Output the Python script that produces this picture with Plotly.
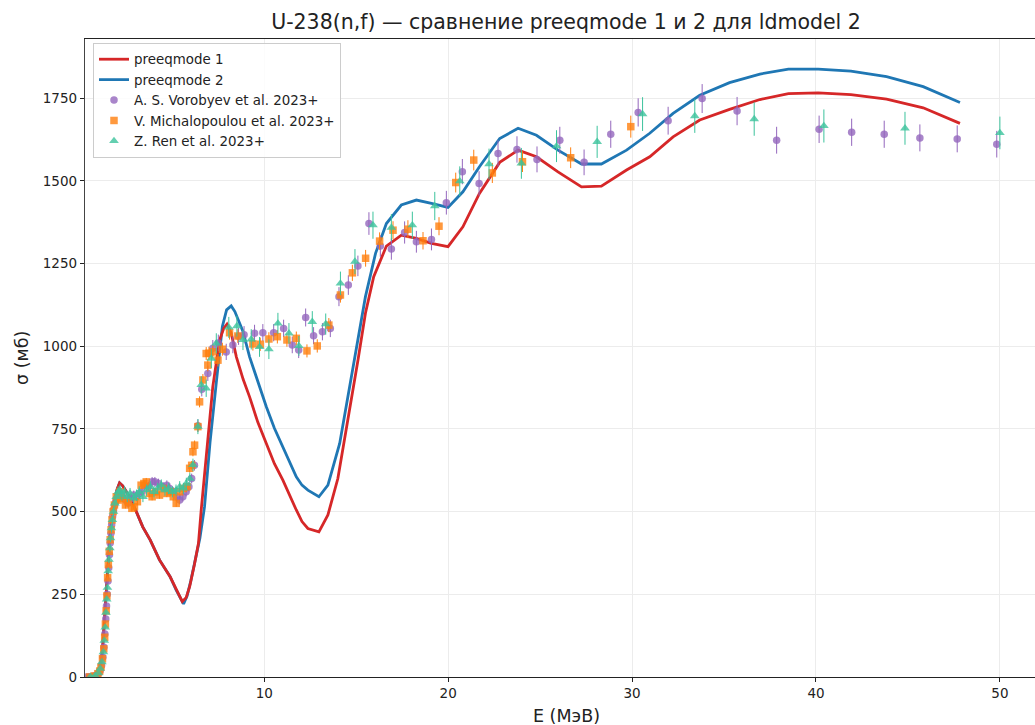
import plotly.graph_objects as go

# ---------------- model curves ----------------
e_pm1 = [0.3, 0.8, 1.0, 1.1, 1.2, 1.3, 1.4, 1.5, 1.6, 1.7,
         1.8, 1.9, 2.0, 2.13, 2.3, 2.67, 3.04, 3.39, 3.8, 4.3,
         4.88, 5.21, 5.54, 5.75, 5.94, 6.2, 6.42, 6.57, 6.9, 7.2,
         7.57, 7.8, 7.97, 8.2, 8.48, 8.85, 9.2, 9.65, 10.11, 10.55,
         11.01, 11.4, 11.74, 12.05, 12.37, 12.97, 13.46, 14.0, 14.5, 15.1,
         15.5, 15.95, 16.64, 17.45, 18.27, 19.09, 19.99, 20.8, 21.7, 22.8,
         23.8, 24.8, 25.97, 27.25, 28.33, 29.7, 30.96, 32.23, 33.68, 35.3,
         36.95, 38.5, 40.12, 41.9, 43.84, 45.83, 47.83]
s_pm1 = [0, 3, 12, 35, 80, 160, 260, 350, 420, 475,
         515, 545, 568, 587, 578, 545, 500, 454, 414, 354,
         303, 263, 228, 240, 273, 340, 404, 505, 700, 878,
         1019, 1055, 1067, 1040, 968, 900, 847, 770, 706, 645,
         595, 545, 505, 470, 449, 439, 490, 600, 760, 960,
         1100, 1210, 1303, 1336, 1326, 1311, 1301, 1361, 1462, 1556,
         1593, 1573, 1527, 1482, 1484, 1533, 1573, 1633, 1684, 1716,
         1746, 1764, 1766, 1761, 1747, 1721, 1674]

e_pm2 = [0.3, 0.8, 1.0, 1.1, 1.2, 1.3, 1.4, 1.5, 1.6, 1.7,
         1.8, 1.9, 2.0, 2.13, 2.3, 2.67, 3.04, 3.39, 3.8, 4.3,
         4.88, 5.21, 5.61, 5.8, 6.0, 6.25, 6.5, 6.75, 7.05, 7.39,
         7.72, 7.95, 8.2, 8.4, 8.84, 9.2, 9.65, 10.11, 10.55, 11.01,
         11.4, 11.74, 12.05, 12.37, 12.97, 13.46, 14.1, 14.5, 15.05, 15.5,
         16.05, 16.64, 17.45, 18.27, 19.09, 19.99, 20.8, 21.7, 22.8, 23.8,
         24.8, 25.97, 27.25, 28.33, 29.7, 30.96, 32.23, 33.68, 35.3, 36.95,
         38.5, 40.12, 41.9, 43.84, 45.83, 47.83]
s_pm2 = [0, 3, 12, 35, 80, 160, 260, 350, 420, 475,
         515, 545, 568, 587, 578, 545, 500, 454, 414, 354,
         303, 263, 221, 245, 290, 355, 420, 515, 710, 890,
         1060, 1110, 1122, 1105, 1045, 968, 890, 817, 752, 696,
         645, 605, 580, 565, 545, 580, 706, 830, 998, 1150,
         1281, 1371, 1427, 1442, 1432, 1420, 1467, 1543, 1628, 1659,
         1638, 1593, 1551, 1551, 1593, 1644, 1704, 1759, 1797, 1823,
         1838, 1838, 1832, 1815, 1785, 1737]

# ---------------- experimental data ----------------
e_vor = [0.35, 0.5, 0.65, 0.8, 0.9, 1.0, 1.08, 1.15, 1.22, 1.28,
         1.33, 1.38, 1.42, 1.46, 1.5, 1.54, 1.58, 1.62, 1.66, 1.7,
         1.75, 1.8, 1.86, 1.92, 2.0, 2.1, 2.2, 2.3, 2.45, 2.6,
         2.75, 2.9, 3.05, 3.2, 3.35, 3.5, 3.7, 3.9, 4.05, 4.25,
         4.5, 4.7, 4.85, 5.05, 5.25, 5.4, 5.57, 5.75, 5.9, 6.05,
         6.2, 6.39, 6.6, 6.93, 7.2, 7.5, 7.93, 8.29, 8.6, 8.9,
         9.47, 9.92, 10.51, 11.05, 11.52, 11.87, 12.25, 12.68, 13.16, 13.59,
         14.06, 14.57, 15.09, 15.69, 16.31, 16.91, 17.63, 18.27, 19.09, 19.9,
         20.77, 21.68, 22.71, 23.74, 24.83, 26.07, 27.39, 28.84, 30.33, 31.96,
         33.81, 35.71, 37.86, 40.17, 41.94, 43.71, 45.65, 47.68, 49.83]
s_vor = [0, 1, 2, 4, 7, 12, 20, 35, 60, 90,
         130, 175, 215, 250, 290, 330, 370, 405, 435, 460,
         485, 505, 520, 530, 540, 548, 552, 545, 535, 525,
         540, 550, 545, 555, 560, 580, 575, 590, 590, 585,
         575, 580, 570, 560, 545, 535, 545, 560, 575, 600,
         640, 760, 870, 918, 994, 1010, 983, 1004, 1030, 1035,
         1039, 1041, 1041, 1054, 1004, 989, 1087, 1032, 1044, 1054,
         1150, 1185, 1243, 1371, 1303, 1294, 1344, 1316, 1323, 1434,
         1528, 1492, 1583, 1595, 1565, 1623, 1556, 1641, 1707, 1682,
         1749, 1711, 1623, 1656, 1647, 1641, 1630, 1627, 1611]

e_mic = [0.5, 0.75, 0.95, 1.05, 1.12, 1.2, 1.27, 1.32, 1.36, 1.4,
         1.44, 1.48, 1.52, 1.57, 1.62, 1.67, 1.72, 1.78, 1.85, 1.95,
         2.05, 2.15, 2.3, 2.45, 2.6, 2.8, 2.94, 3.1, 3.3, 3.45,
         3.58, 3.75, 3.9, 4.1, 4.3, 4.5, 4.7, 4.9, 5.05, 5.21,
         5.4, 5.6, 5.8, 5.94, 6.05, 6.12, 6.21, 6.39, 6.48, 6.66,
         6.84, 6.93, 6.99, 7.2, 7.48, 7.72, 8.11, 8.56, 9.38, 9.78,
         10.25, 10.71, 11.23, 11.74, 12.32, 12.88, 13.51, 14.14, 14.79, 15.51,
         16.27, 17.0, 17.81, 18.63, 19.5, 20.41, 21.39, 22.4, 24.04, 26.66,
         29.93]
s_mic = [0, 3, 10, 18, 30, 55, 85, 120, 160, 200,
         245, 300, 340, 380, 415, 445, 475, 500, 520, 545,
         535, 560, 540, 520, 530, 510, 515, 530, 580, 585,
         590, 555, 545, 560, 550, 570, 555, 560, 545, 525,
         560, 570, 575, 631, 640, 681, 701, 757, 832, 898,
         978, 943, 979, 983, 958, 991, 1041, 1031, 1007, 1006,
         1022, 1029, 1019, 1024, 986, 1001, 1064, 1155, 1222, 1266,
         1318, 1351, 1354, 1319, 1363, 1495, 1563, 1524, 1558, 1570,
         1664]

e_ren = [0.55, 0.8, 0.98, 1.08, 1.17, 1.25, 1.3, 1.35, 1.39, 1.43,
         1.47, 1.51, 1.55, 1.6, 1.64, 1.69, 1.74, 1.8, 1.87, 1.95,
         2.05, 2.15, 2.25, 2.4, 2.55, 2.7, 2.9, 3.05, 3.2, 3.4,
         3.6, 3.8, 4.0, 4.2, 4.4, 4.6, 4.8, 5.0, 5.2, 5.4,
         5.6, 5.76, 5.95, 6.12, 6.39, 6.57, 6.84, 7.12, 7.39, 8.07,
         8.51, 8.84, 9.29, 9.74, 10.25, 10.74, 11.34, 11.88, 12.61, 13.34,
         14.14, 14.93, 15.91, 16.91, 18.05, 19.27, 20.63, 22.22, 23.98, 25.89,
         28.1, 30.57, 33.41, 36.64, 40.43, 44.84, 50.0]
s_ren = [1, 4, 12, 25, 45, 75, 110, 150, 195, 235,
         270, 320, 355, 390, 420, 450, 475, 500, 525, 545,
         560, 565, 550, 560, 545, 555, 540, 550, 560, 545,
         565, 575, 560, 570, 580, 565, 570, 560, 565, 575,
         570, 585, 600, 641, 757, 883, 873, 963, 1009, 1057,
         1061, 1019, 1021, 998, 991, 1069, 1039, 1001, 1074, 1067,
         1190, 1256, 1366, 1359, 1366, 1424, 1499, 1551, 1553, 1605,
         1618, 1702, 1696, 1687, 1666, 1659, 1645]

x_ticks = [10, 20, 30, 40, 50]
y_ticks = [0, 250, 500, 750, 1000, 1250, 1500, 1750]

FONT = "DejaVu Sans"
RED = "#d62728"
BLUE = "#1f77b4"
PURPLE = "#9467bd"
ORANGE = "#ff7f0e"
TEAL = "#3cc39c"

W, H = 1035, 725
L, R, T, B = 85, 0, 39, 48
PW, PH = W - L - R, H - T - B

fig = go.Figure()

fig.add_trace(go.Scatter(x=e_pm2, y=s_pm2, mode="lines", name="preeqmode 2",
                         line=dict(color=BLUE, width=2.8), legendrank=2))
fig.add_trace(go.Scatter(x=e_pm1, y=s_pm1, mode="lines", name="preeqmode 1",
                         line=dict(color=RED, width=2.8), legendrank=1))


def exp_trace(x, y, name, color, symbol, size, pct, rank):
    return go.Scatter(
        x=x, y=y, mode="markers", name=name, legendrank=rank,
        marker=dict(color=color, symbol=symbol, size=size, opacity=0.8,
                    line=dict(width=0)),
        error_y=dict(type="percent", value=pct, color=color, thickness=1,
                     width=0),
    )


fig.add_trace(exp_trace(e_vor, s_vor, "A. S. Vorobyev et al. 2023+", PURPLE,
                        "circle", 7.5, 2.5, 3))
fig.add_trace(exp_trace(e_mic, s_mic, "V. Michalopoulou et al. 2023+", ORANGE,
                        "square", 7.5, 2.0, 4))
fig.add_trace(exp_trace(e_ren, s_ren, "Z. Ren et al. 2023+", TEAL,
                        "triangle-up", 8.5, 3.0, 5))

fig.update_layout(
    width=W, height=H,
    margin=dict(l=L, r=R, t=T, b=B),
    paper_bgcolor="white", plot_bgcolor="white",
    font=dict(family=FONT, size=13, color="#222"),
    title=dict(text="U-238(n,f) — сравнение preeqmode 1 и 2 для ldmodel 2",
               x=566 / W, xref="container", xanchor="center",
               y=1 - 22 / H, yref="container", yanchor="middle",
               font=dict(family=FONT, size=20.5, color="#222")),
    legend=dict(x=(93 - L) / PW, y=1 - (43 - T) / PH, xanchor="left", yanchor="top",
                bgcolor="rgba(255,255,255,0.85)", bordercolor="#cccccc",
                borderwidth=1, font=dict(family=FONT, size=13.4, color="#222"),
                itemwidth=30, tracegroupgap=0),
    showlegend=True,
)

fig.update_xaxes(range=[0.25, 51.91], tickvals=x_ticks,
                 showline=True, linecolor="#222", linewidth=1.2, mirror=True,
                 ticks="outside", ticklen=4, tickcolor="#222",
                 showgrid=True, gridcolor="#ececec", gridwidth=1,
                 zeroline=False, tickfont=dict(size=13.5))
fig.update_yaxes(range=[0, 1929], tickvals=y_ticks,
                 showline=True, linecolor="#444", linewidth=1.2, mirror=False,
                 ticks="outside", ticklen=4, tickcolor="#222",
                 showgrid=True, gridcolor="#ececec", gridwidth=1,
                 zeroline=False, tickfont=dict(size=13.5))

fig.add_annotation(text="E (МэВ)", x=(566 - L) / PW, y=-(716 - 677) / PH,
                   xref="paper", yref="paper", showarrow=False,
                   xanchor="center", yanchor="middle",
                   font=dict(family=FONT, size=17.5, color="#222"))
fig.add_annotation(text="σ (мб)", x=-(L - 22) / PW, y=(677 - 358) / PH,
                   xref="paper", yref="paper", showarrow=False,
                   xanchor="center", yanchor="middle", textangle=-90,
                   font=dict(family=FONT, size=17.5, color="#222"))

fig.write_html(
    "out.html",
    config={"displayModeBar": False, "staticPlot": True},
    post_script="document.body.style.margin='0';document.body.style.overflow='hidden';",
)
